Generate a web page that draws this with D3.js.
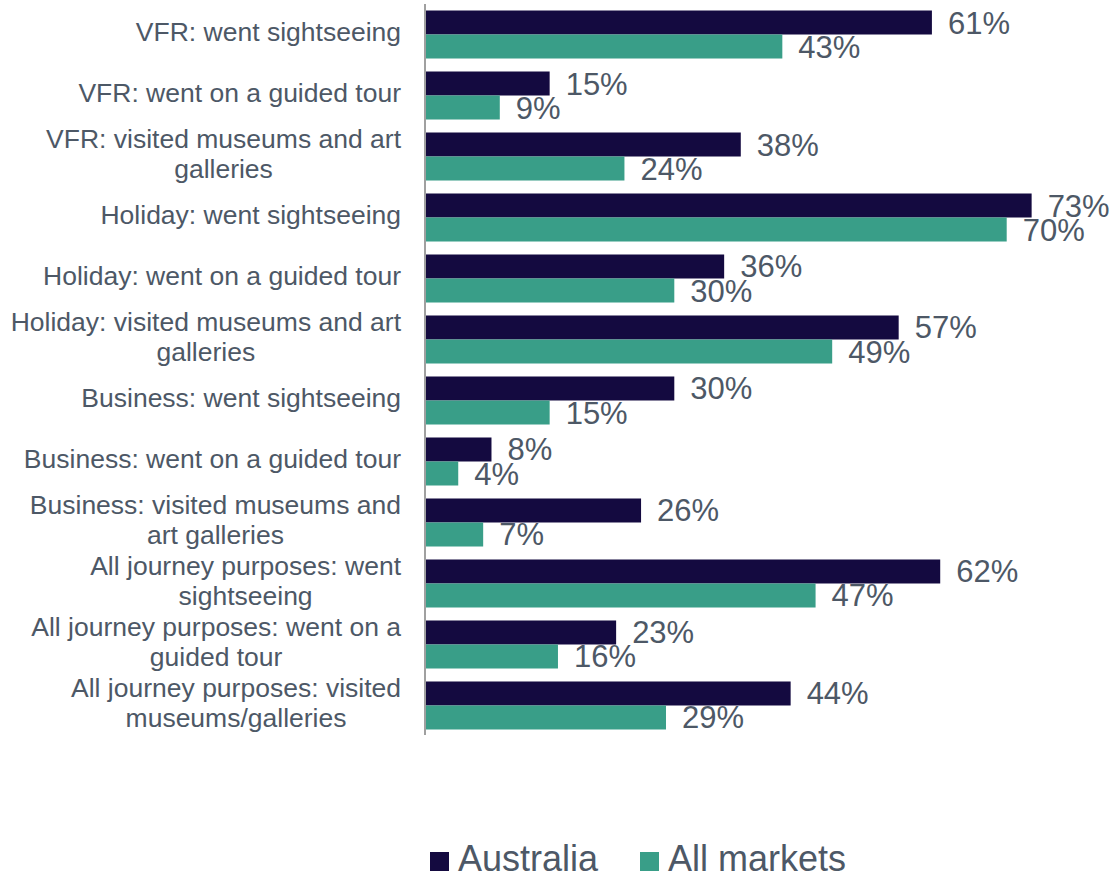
<!DOCTYPE html>
<html><head><meta charset="utf-8">
<script src="https://cdn.jsdelivr.net/npm/d3@7"></script>
<style>body{margin:0;background:#fff}svg{display:block}text{font-family:"Liberation Sans",Arial,sans-serif}</style>
</head><body>
<svg id="c" width="1117" height="875"></svg>
<script>
const categories = [
  ["VFR: went sightseeing"],
  ["VFR: went on a guided tour"],
  ["VFR: visited museums and art", "galleries"],
  ["Holiday: went sightseeing"],
  ["Holiday: went on a guided tour"],
  ["Holiday: visited museums and art", "galleries"],
  ["Business: went sightseeing"],
  ["Business: went on a guided tour"],
  ["Business: visited museums and", "art galleries"],
  ["All journey purposes: went", "sightseeing"],
  ["All journey purposes: went on a", "guided tour"],
  ["All journey purposes: visited", "museums/galleries"]
];
const australia = [61, 15, 38, 73, 36, 57, 30, 8, 26, 62, 23, 44];
const allMarkets = [43, 9, 24, 70, 30, 49, 15, 4, 7, 47, 16, 29];
const seriesNames = ["Australia", "All markets"];
const colors = ["#140a40", "#399e88"];
const textColor = "#4d5866";

const svg = d3.select("#c");
const keys = categories.map((c, i) => i);
const y = d3.scaleBand().domain(keys).range([4, 736]).paddingInner(0.213).paddingOuter(0.1066);
const x = d3.scaleLinear().domain([0, 80]).range([425, 425 + 8.31 * 80]);
const sub = d3.scaleBand().domain([0, 1]).range([0, y.bandwidth()]);

const data = keys.map(i => ({i, vals: [australia[i], allMarkets[i]]}));

const g = svg.append("g");
data.forEach(d => {
  d.vals.forEach((v, s) => {
    const yy = y(d.i) + sub(s);
    g.append("rect").attr("x", x(0)).attr("y", yy).attr("width", x(v) - x(0)).attr("height", sub.bandwidth()).attr("fill", colors[s]);
  });
});
data.forEach(d => {
  d.vals.forEach((v, s) => {
    const yy = y(d.i) + sub(s) + sub.bandwidth() / 2;
    g.append("text").attr("x", x(v) + 16).attr("y", yy + 11).attr("font-size", 31).attr("fill", textColor).text(v + "%");
  });
});

// axis line
svg.append("line").attr("x1", 425).attr("x2", 425).attr("y1", 4).attr("y2", 735).attr("stroke", "#a0a0a0").attr("stroke-width", 2);

// category labels
const lab = svg.append("g");
categories.forEach((lines, i) => {
  const cy = y(i) + y.bandwidth() / 2;
  const lh = 30;
  const gg = lab.append("g");
  const ts = lines.map((t, k) => gg.append("text").attr("font-size", 26.5).attr("fill", textColor)
    .attr("y", cy + (k - (lines.length - 1) / 2) * lh + 6.5).text(t));
  const maxW = d3.max(ts, t => t.node().getComputedTextLength());
  const cx = 401 - maxW / 2;
  ts.forEach(t => t.attr("x", cx).attr("text-anchor", "middle"));
});

// legend
const legX = [430, 640];
seriesNames.forEach((n, s) => {
  svg.append("rect").attr("x", legX[s]).attr("y", 852).attr("width", 19).attr("height", 19).attr("fill", colors[s]);
  svg.append("text").attr("x", legX[s] + 28).attr("y", 871).attr("font-size", 36).attr("fill", textColor).text(n);
});
</script>
</body></html>
